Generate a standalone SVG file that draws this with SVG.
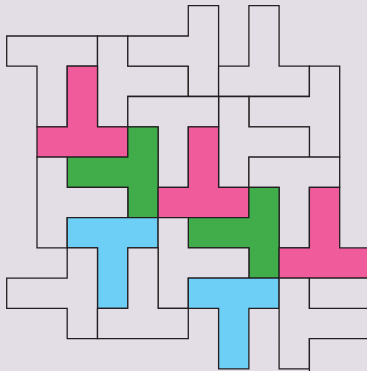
<svg xmlns="http://www.w3.org/2000/svg" width="367" height="371" viewBox="0 0 367 371">
<style>
.p{stroke:#231f20;stroke-width:1.3;stroke-linejoin:miter}
.w{fill:#e3dde6}
.pk{fill:#f05b9b}
.g{fill:#41ad4a}
.b{fill:#6dcff6}
</style>
<rect width="367" height="371" fill="#e3dde6"/>
<g id="pieces">
<polygon id="w1" class="p w" points="6.7,36 97.5,36 97.5,66.2 67.2,66.2 67.2,126.8 37,126.8 37,66.2 6.7,66.2"/>
<polygon id="q" class="p w" points="97.5,36 127.8,36 127.8,66.2 188.3,66.2 188.3,96.5 127.8,96.5 127.8,126.8 97.5,126.8"/>
<polygon id="p1" class="p w" points="188.3,5.7 218.6,5.7 218.6,96.5 188.3,96.5 188.3,66.2 127.8,66.2 127.8,36 188.3,36"/>
<polygon id="p2" class="p w" points="248.9,5.7 279.1,5.7 279.1,66.2 309.4,66.2 309.4,96.5 218.6,96.5 218.6,66.2 248.9,66.2"/>
<polygon id="p3" class="p w" points="309.4,66.2 339.7,66.2 339.7,157.1 309.4,157.1 309.4,126.8 248.9,126.8 248.9,96.5 309.4,96.5"/>
<polygon id="p4" class="p w" points="218.6,96.5 248.9,96.5 248.9,126.8 309.4,126.8 309.4,157.1 248.9,157.1 248.9,187.3 218.6,187.3"/>
<polygon id="w2" class="p w" points="127.8,96.5 218.6,96.5 218.6,126.8 188.3,126.8 188.3,187.3 158.1,187.3 158.1,126.8 127.8,126.8"/>
<polygon id="pk1" class="p pk" points="67.2,66.2 97.5,66.2 97.5,126.8 127.8,126.8 127.8,157.1 37,157.1 37,126.8 67.2,126.8"/>
<polygon id="g1" class="p g" points="127.8,126.8 158.1,126.8 158.1,217.6 127.8,217.6 127.8,187.3 67.2,187.3 67.2,157.1 127.8,157.1"/>
<polygon id="pk2" class="p pk" points="188.3,126.8 218.6,126.8 218.6,187.3 248.9,187.3 248.9,217.6 158.1,217.6 158.1,187.3 188.3,187.3"/>
<polygon id="w3" class="p w" points="37,157.1 67.2,157.1 67.2,187.3 127.8,187.3 127.8,217.6 67.2,217.6 67.2,247.9 37,247.9"/>
<polygon id="w8" class="p w" points="248.9,157.1 339.7,157.1 339.7,187.3 309.4,187.3 309.4,247.9 279.1,247.9 279.1,187.3 248.9,187.3"/>
<polygon id="g2" class="p g" points="248.9,187.3 279.1,187.3 279.1,278.1 248.9,278.1 248.9,247.9 188.3,247.9 188.3,217.6 248.9,217.6"/>
<polygon id="pk3" class="p pk" points="309.4,187.3 339.7,187.3 339.7,247.9 369.9,247.9 369.9,278.1 279.1,278.1 279.1,247.9 309.4,247.9"/>
<polygon id="b1" class="p b" points="67.2,217.6 158.1,217.6 158.1,247.9 127.8,247.9 127.8,308.4 97.5,308.4 97.5,247.9 67.2,247.9"/>
<polygon id="w6" class="p w" points="158.1,217.6 188.3,217.6 188.3,247.9 248.9,247.9 248.9,278.1 188.3,278.1 188.3,308.4 158.1,308.4"/>
<polygon id="w4" class="p w" points="67.2,247.9 97.5,247.9 97.5,338.7 67.2,338.7 67.2,308.4 6.7,308.4 6.7,278.1 67.2,278.1"/>
<polygon id="w5" class="p w" points="127.8,247.9 158.1,247.9 158.1,308.4 188.3,308.4 188.3,338.7 97.5,338.7 97.5,308.4 127.8,308.4"/>
<polygon id="b2" class="p b" points="188.3,278.1 279.1,278.1 279.1,308.4 248.9,308.4 248.9,368.9 218.6,368.9 218.6,308.4 188.3,308.4"/>
<polygon id="w7" class="p w" points="279.1,278.1 309.4,278.1 309.4,308.4 369.9,308.4 369.9,338.7 309.4,338.7 309.4,368.9 279.1,368.9"/>
<polygon id="w9" class="p w" points="309.4,278.1 369.9,278.1 369.9,308.4 309.4,308.4"/>
<polygon id="w10" class="p w" points="309.4,338.7 400,338.7 400,400 309.4,400"/>
</g>
</svg>
